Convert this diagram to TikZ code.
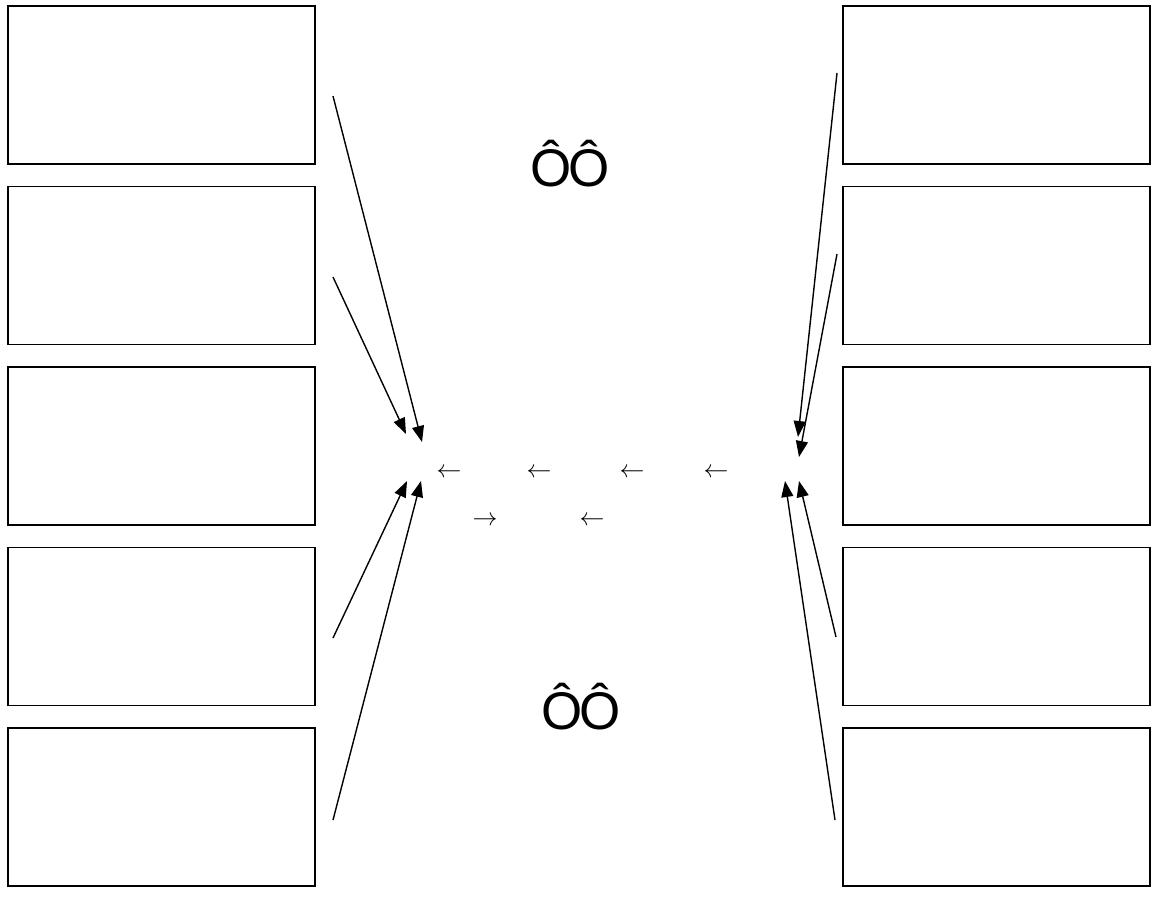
\documentclass[tikz,border=0pt]{standalone}
\usepackage{fontspec}
\setmainfont{Liberation Sans}
\usetikzlibrary{arrows.meta}
\begin{document}
\begin{tikzpicture}[x=1pt,y=-1pt,
  boxnode/.style={draw,line width=1.4pt,minimum width=307pt,minimum height=158pt,inner sep=0pt,outer sep=0pt},
  conn/.style={line width=1.4pt,-{Triangle[length=16pt,width=12pt]}},
  bigtxt/.style={font=\fontsize{53}{60}\selectfont,anchor=base,inner sep=0pt},
  arr/.style={font=\fontsize{27}{30}\selectfont,inner sep=0pt}]
\useasboundingbox (0,0) rectangle (1151,898);
% left column
\node[boxnode] (L1) at (161.5,85) {};
\node[boxnode] (L2) at (161.5,265.5) {};
\node[boxnode] (L3) at (161.5,446) {};
\node[boxnode] (L4) at (161.5,626.5) {};
\node[boxnode] (L5) at (161.5,807) {};
% right column
\node[boxnode] (R1) at (996.5,85) {};
\node[boxnode] (R2) at (996.5,265.5) {};
\node[boxnode] (R3) at (996.5,446) {};
\node[boxnode] (R4) at (996.5,626.5) {};
\node[boxnode] (R5) at (996.5,807) {};
% texts
\node[bigtxt] (t1) at (570,186) {Ô\kern-4ptÔ};
\node[bigtxt] (t2) at (581,729) {Ô\kern-4ptÔ};
\node[arr] (a1) at (449,473) {$\leftarrow$};
\node[arr] (a2) at (539,473) {$\leftarrow$};
\node[arr] (a3) at (632,473) {$\leftarrow$};
\node[arr] (a4) at (716,473) {$\leftarrow$};
\node[arr] (a5) at (485,521) {$\rightarrow$};
\node[arr] (a6) at (592,521) {$\leftarrow$};
% connector ends
\coordinate (s1) at (333,96);   \coordinate (e1) at (422,442);
\coordinate (s2) at (333,277);  \coordinate (e2) at (406,434);
\coordinate (s3) at (333,638);  \coordinate (e3) at (407,481);
\coordinate (s4) at (333,820);  \coordinate (e4) at (421,481);
\coordinate (s5) at (837,73);   \coordinate (e5) at (798,437);
\coordinate (s6) at (837,254);  \coordinate (e6) at (799,457);
\coordinate (s7) at (836,637);  \coordinate (e7) at (799,481);
\coordinate (s8) at (835,820);  \coordinate (e8) at (785,481);
\foreach \i in {1,...,8} {\draw[conn] (s\i) -- (e\i);}
\end{tikzpicture}
\end{document}
